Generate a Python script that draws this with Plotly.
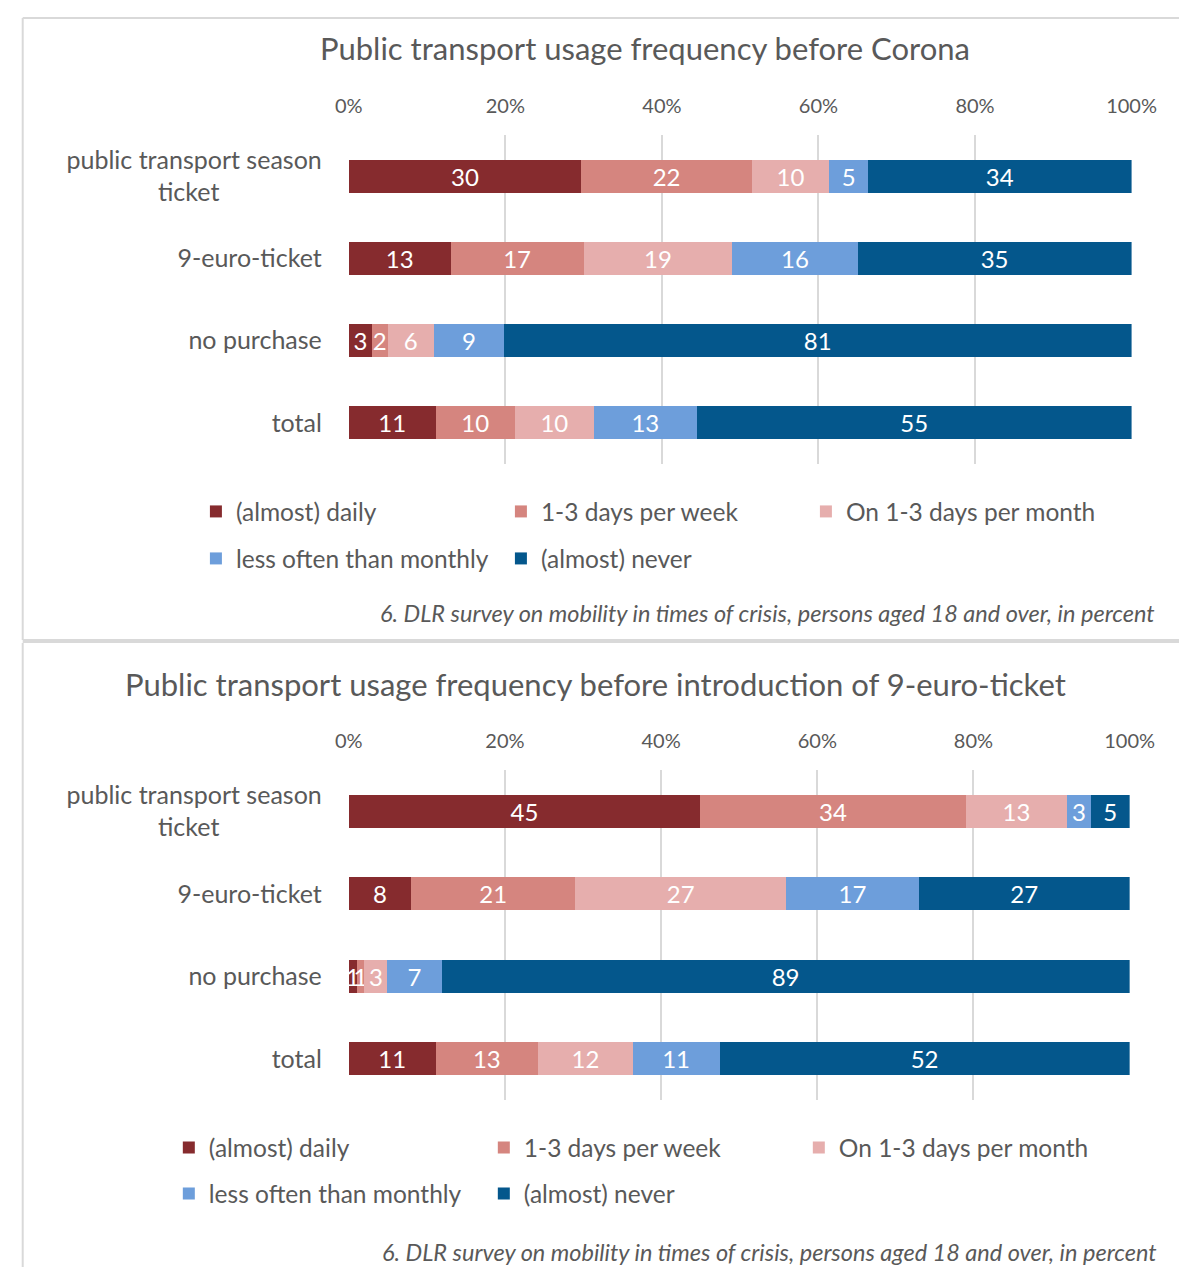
import plotly.graph_objects as go

W, H = 1204, 1267

# ---------------- data ----------------
categories = ["public transport season ticket", "9-euro-ticket", "no purchase", "total"]
category_ticktext = [
    "public transport season<br>ticket" + "\u00a0" * 16,
    "9-euro-ticket",
    "no purchase",
    "total",
]
series_names = ["(almost) daily", "1-3 days per week", "On 1-3 days per month",
                "less often than monthly", "(almost) never"]
series_colors = ["#862B2E", "#D5857F", "#E6AEAD", "#6D9EDB", "#04578C"]
tick_values = [0, 20, 40, 60, 80, 100]
tick_labels = ["0%", "20%", "40%", "60%", "80%", "100%"]

# Panel 1: before Corona
corona_daily = [30, 13, 3, 11]
corona_weekly = [22, 17, 2, 10]
corona_monthly = [10, 19, 6, 10]
corona_less = [5, 16, 9, 13]
corona_never = [34, 35, 81, 55]

# Panel 2: before introduction of 9-euro-ticket
nine_daily = [45, 8, 1, 11]
nine_weekly = [34, 21, 1, 13]
nine_monthly = [13, 27, 3, 12]
nine_less = [3, 17, 7, 11]
nine_never = [5, 27, 89, 52]

title_top = "Public transport usage frequency before Corona"
title_bottom = "Public transport usage frequency before introduction of 9-euro-ticket"
source_note = "6. DLR survey on mobility in times of crisis, persons aged 18 and over, in percent"

FONT = "Lato"
GRAY = "#595959"
GRID = "#D9D9D9"


def px_x(x):
    return x / W


def px_y(y):
    return 1 - y / H


fig = go.Figure()

panels = [
    ("x", "y", [corona_daily, corona_weekly, corona_monthly, corona_less, corona_never],
     ["legend", "legend", "legend", "legend2", "legend2"]),
    ("x2", "y2", [nine_daily, nine_weekly, nine_monthly, nine_less, nine_never],
     ["legend3", "legend3", "legend3", "legend4", "legend4"]),
]

for xa, ya, series, legs in panels:
    for name, color, vals, leg in zip(series_names, series_colors, series, legs):
        fig.add_trace(go.Bar(
            y=categories, x=vals, name=name, orientation="h",
            marker=dict(color=color, line=dict(width=0)),
            text=vals, texttemplate="%{text}", textposition="inside",
            insidetextanchor="middle", textangle=0, constraintext="none",
            textfont=dict(family=FONT, size=24, color="white"),
            xaxis=xa, yaxis=ya, legend=leg, hoverinfo="skip",
        ))

axis_common_x = dict(
    range=[0, 100], tickmode="array", tickvals=tick_values, ticktext=tick_labels, side="top",
    showgrid=True, gridcolor=GRID, gridwidth=2, zeroline=False, showline=False,
    tickfont=dict(family=FONT, size=20, color=GRAY), ticks="", ticklabelstandoff=17,
    fixedrange=True,
)
axis_common_y = dict(
    categoryorder="array", categoryarray=categories, autorange="reversed",
    tickmode="array", tickvals=categories, ticktext=category_ticktext,
    showgrid=False, zeroline=False, showline=False, ticks="",
    tickfont=dict(family=FONT, size=25, color=GRAY), ticklabelstandoff=26,
    fixedrange=True,
)

fig.update_layout(
    width=W, height=H, autosize=False,
    margin=dict(l=0, r=0, t=0, b=0),
    paper_bgcolor="white", plot_bgcolor="white",
    barmode="stack", barnorm="percent", bargap=0.6,
    font=dict(family=FONT, color=GRAY),
    xaxis=dict(domain=[px_x(346), px_x(1155)], anchor="y", **axis_common_x),
    yaxis=dict(domain=[px_y(464), px_y(135)], anchor="x", **axis_common_y),
    xaxis2=dict(domain=[px_x(346), px_x(1153)], anchor="y2", **axis_common_x),
    yaxis2=dict(domain=[px_y(1100), px_y(770)], anchor="x2", **axis_common_y),
)

legend_common = dict(orientation="h", xanchor="left", yanchor="top",
                     entrywidthmode="pixels", traceorder="normal",
                     font=dict(family=FONT, size=24.5, color=GRAY),
                     bgcolor="rgba(0,0,0,0)", borderwidth=0)
fig.update_layout(
    legend=dict(x=px_x(188), y=px_y(489), entrywidth=260, **legend_common),
    legend2=dict(x=px_x(188), y=px_y(536), entrywidth=260, **legend_common),
    legend3=dict(x=px_x(160), y=px_y(1125), entrywidth=270, **legend_common),
    legend4=dict(x=px_x(160), y=px_y(1171), entrywidth=270, **legend_common),
)

annotations = [
    dict(text=title_top, x=px_x(652), y=px_y(48), xanchor="center", yanchor="middle",
         font=dict(family=FONT, size=31, color=GRAY)),
    dict(text=title_bottom, x=px_x(601), y=px_y(684), xanchor="center", yanchor="middle",
         font=dict(family=FONT, size=31, color=GRAY)),
    dict(text=source_note, x=px_x(1181), y=px_y(613), xanchor="right", yanchor="middle",
         font=dict(family=FONT, size=23.5, color=GRAY, style="italic")),
    dict(text=source_note, x=px_x(1183), y=px_y(1252), xanchor="right", yanchor="middle",
         font=dict(family=FONT, size=23.5, color=GRAY, style="italic")),
]
for a in annotations:
    a.update(xref="paper", yref="paper", showarrow=False)
fig.update_layout(annotations=annotations)

shapes = [
    dict(type="line", x0=px_x(9), x1=1, y0=px_y(18), y1=px_y(18), line=dict(color=GRID, width=2)),
    dict(type="line", x0=px_x(9), x1=px_x(9), y0=px_y(18), y1=px_y(640), line=dict(color=GRID, width=2)),
    dict(type="line", x0=px_x(9), x1=1, y0=px_y(641), y1=px_y(641), line=dict(color=GRID, width=4)),
    dict(type="line", x0=px_x(9), x1=px_x(9), y0=px_y(643), y1=0, line=dict(color=GRID, width=2)),
]
for s in shapes:
    s.update(xref="paper", yref="paper", layer="below")
fig.update_layout(shapes=shapes)

fig.write_html(
    "out.html",
    config={"displayModeBar": False},
    post_script="document.body.style.margin='0';document.body.style.overflow='hidden';",
)
